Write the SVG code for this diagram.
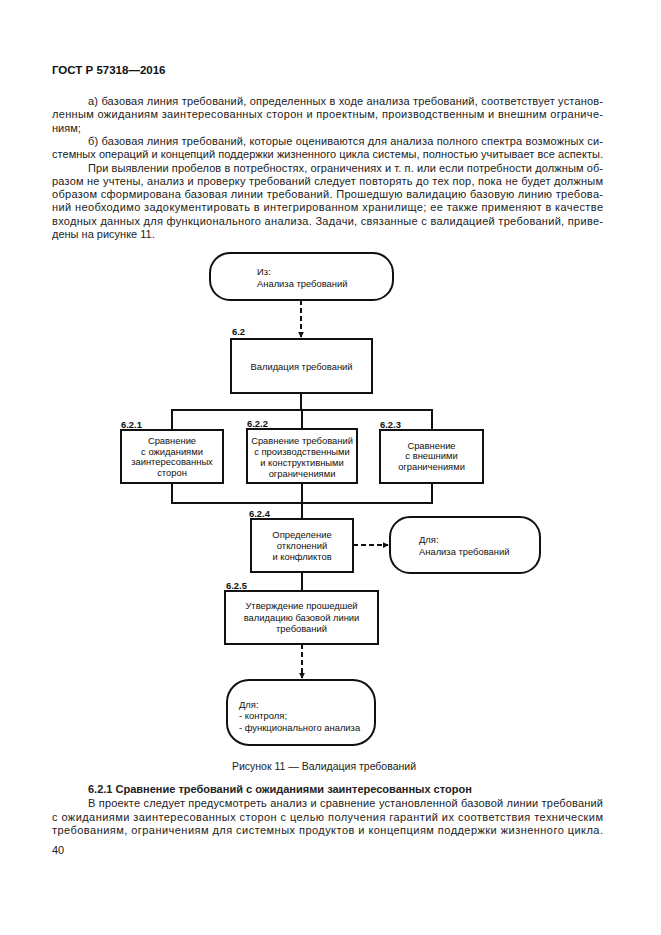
<svg xmlns="http://www.w3.org/2000/svg" width="661" height="935" viewBox="0 0 661 935">
<defs>
<style>
.pg{font-family:"Liberation Sans",Arial,sans-serif;font-size:11px;fill:#222}
.hd{font-family:"Liberation Sans",Arial,sans-serif;font-size:11.5px;font-weight:bold;fill:#111}
.b{font-weight:bold}
.cap{font-family:"Liberation Sans",Arial,sans-serif;font-size:10.5px;fill:#222}
.dt{font-family:"Liberation Sans",Arial,sans-serif;font-size:9.4px;fill:#111;dominant-baseline:central}
.c{text-anchor:middle}
.lb{font-family:"Liberation Sans",Arial,sans-serif;font-size:9.4px;font-weight:bold;fill:#111;dominant-baseline:central}
.box{fill:#fff;stroke:#111;stroke-width:2}
.ln{fill:none;stroke:#111;stroke-width:2}
.ds{fill:none;stroke:#111;stroke-width:2;stroke-dasharray:5 3}
</style>
<marker id="ah" viewBox="0 0 8 8" refX="7" refY="4" markerWidth="3" markerHeight="3" orient="auto" markerUnits="strokeWidth">
<path d="M0,0 L8,4 L0,8 z" fill="#111"/>
</marker>
</defs>
<rect width="661" height="935" fill="#fff"/>

<g id="page-text">
<text class="hd" x="52" y="74">ГОСТ Р 57318—2016</text>
<text class="pg" x="88" y="105" textLength="515" lengthAdjust="spacing">а) базовая линия требований, определенных в ходе анализа требований, соответствует установ-</text>
<text class="pg" x="52" y="118.3" textLength="551" lengthAdjust="spacing">ленным ожиданиям заинтересованных сторон и проектным, производственным и внешним ограниче-</text>
<text class="pg" x="52" y="131.6">ниям;</text>
<text class="pg" x="88" y="144.9" textLength="515" lengthAdjust="spacing">б) базовая линия требований, которые оцениваются для анализа полного спектра возможных си-</text>
<text class="pg" x="52" y="158.2" textLength="551" lengthAdjust="spacing">стемных операций и концепций поддержки жизненного цикла системы, полностью учитывает все аспекты.</text>
<text class="pg" x="88" y="171.5" textLength="515" lengthAdjust="spacing">При выявлении пробелов в потребностях, ограничениях и т. п. или если потребности должным об-</text>
<text class="pg" x="52" y="184.8" textLength="551" lengthAdjust="spacing">разом не учтены, анализ и проверку требований следует повторять до тех пор, пока не будет должным</text>
<text class="pg" x="52" y="198.1" textLength="551" lengthAdjust="spacing">образом сформирована базовая линии требований. Прошедшую валидацию базовую линию требова-</text>
<text class="pg" x="52" y="211.4" textLength="551" lengthAdjust="spacing">ний необходимо задокументировать в интегрированном хранилище; ее также применяют в качестве</text>
<text class="pg" x="52" y="224.7" textLength="551" lengthAdjust="spacing">входных данных для функционального анализа. Задачи, связанные с валидацией требований, приве-</text>
<text class="pg" x="52" y="238">дены на рисунке 11.</text>

<text class="cap c" x="324" y="770">Рисунок 11 — Валидация требований</text>
<text class="pg b" x="88" y="793">6.2.1 Сравнение требований с ожиданиями заинтересованных сторон</text>
<text class="pg" x="88" y="807" textLength="515" lengthAdjust="spacing">В проекте следует предусмотреть анализ и сравнение установленной базовой линии требований</text>
<text class="pg" x="52" y="821" textLength="551" lengthAdjust="spacing">с ожиданиями заинтересованных сторон с целью получения гарантий их соответствия техническим</text>
<text class="pg" x="52" y="834" textLength="551" lengthAdjust="spacing">требованиям, ограничениям для системных продуктов и концепциям поддержки жизненного цикла.</text>
<text class="pg" x="52" y="854">40</text>
</g>

<g id="connectors">
<line class="ds" x1="301" y1="300" x2="301" y2="337" marker-end="url(#ah)"/>
<polyline class="ln" points="301,393 301,410"/>
<polyline class="ln" points="172,430 172,410 432,410 432,430"/>
<line class="ln" x1="302" y1="410" x2="302" y2="429"/>
<polyline class="ln" points="172,483 172,503 432,503 432,483"/>
<line class="ln" x1="302" y1="483" x2="302" y2="519"/>
<line class="ds" x1="353" y1="545" x2="388" y2="545" marker-end="url(#ah)"/>
<line class="ln" x1="302" y1="572" x2="302" y2="591"/>
<line class="ds" x1="302" y1="644" x2="302" y2="678" marker-end="url(#ah)"/>
</g>

<g id="from-analysis">
<rect class="box" x="210" y="253" width="183" height="47" rx="20"/>
<text class="dt" x="257" y="271">Из:</text>
<text class="dt" x="257" y="283">Анализа требований</text>
</g>

<g id="n6-2">
<text class="lb" x="232" y="331">6.2</text>
<rect class="box" x="231" y="339" width="141" height="54"/>
<text class="dt c" x="301.5" y="366">Валидация требований</text>
</g>

<g id="n6-2-1">
<text class="lb" x="121" y="424">6.2.1</text>
<rect class="box" x="121" y="430" width="102" height="53"/>
<text class="dt c" x="172" y="440.5">Сравнение</text>
<text class="dt c" x="172" y="451">с ожиданиями</text>
<text class="dt c" x="172" y="461.5">заинтересованных</text>
<text class="dt c" x="172" y="472">сторон</text>
</g>

<g id="n6-2-2">
<text class="lb" x="247" y="423">6.2.2</text>
<rect class="box" x="247" y="429" width="110" height="54"/>
<text class="dt c" x="302" y="440.5">Сравнение требований</text>
<text class="dt c" x="302" y="451.5">с производственными</text>
<text class="dt c" x="302" y="462.5">и конструктивными</text>
<text class="dt c" x="302" y="473.5">ограничениями</text>
</g>

<g id="n6-2-3">
<text class="lb" x="380" y="424">6.2.3</text>
<rect class="box" x="380" y="430" width="103" height="53"/>
<text class="dt c" x="431.5" y="445">Сравнение</text>
<text class="dt c" x="431.5" y="455.5">с внешними</text>
<text class="dt c" x="431.5" y="466">ограничениями</text>
</g>

<g id="n6-2-4">
<text class="lb" x="249" y="513">6.2.4</text>
<rect class="box" x="251" y="519" width="102" height="53"/>
<text class="dt c" x="302" y="534">Определение</text>
<text class="dt c" x="302" y="545">отклонений</text>
<text class="dt c" x="302" y="556">и конфликтов</text>
</g>

<g id="to-analysis">
<rect class="box" x="390" y="517" width="150" height="56" rx="20"/>
<text class="dt" x="419" y="539">Для:</text>
<text class="dt" x="419" y="551">Анализа требований</text>
</g>

<g id="n6-2-5">
<text class="lb" x="226" y="585">6.2.5</text>
<rect class="box" x="225" y="591" width="153" height="53"/>
<text class="dt c" x="301.5" y="605.5">Утверждение прошедшей</text>
<text class="dt c" x="301.5" y="617">валидацию базовой линии</text>
<text class="dt c" x="301.5" y="628.5">требований</text>
</g>

<g id="to-control">
<rect class="box" x="227" y="680" width="148" height="65" rx="22"/>
<text class="dt" x="239" y="704">Для:</text>
<text class="dt" x="239" y="715.5">- контроля;</text>
<text class="dt" x="239" y="727">- функционального анализа</text>
</g>
</svg>
